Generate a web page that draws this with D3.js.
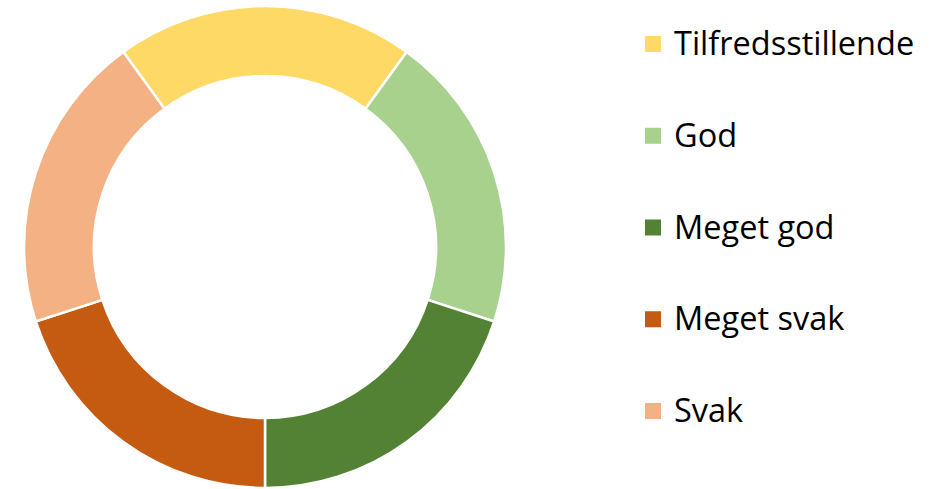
<!DOCTYPE html>
<html lang="no">
<head>
<meta charset="utf-8">
<title>Vurdering</title>
<script src="https://cdn.jsdelivr.net/npm/d3@7"></script>
<style>
  body { margin: 0; background: #fff; }
  svg { display: block; }
  .legend text { font-family: "Open Sans", sans-serif; font-size: 32.5px; fill: #000; }
</style>
</head>
<body>
<script>
// data
const categories = ["Tilfredsstillende", "God", "Meget god", "Meget svak", "Svak"];
const values = [1, 1, 1, 1, 1];
const colors = ["#FFD966", "#A9D18E", "#548235", "#C55A11", "#F4B183"];

const w = 938, h = 489;
const cx = 265, cy = 247;
const outerR = 241, innerR = 171;

const svg = d3.select("body").append("svg")
  .attr("width", w)
  .attr("height", h);

const color = d3.scaleOrdinal().domain(categories).range(colors);

// first slice centred on the top
const pie = d3.pie()
  .sort(null)
  .value(d => d.value)
  .startAngle(-Math.PI / 5)
  .endAngle(2 * Math.PI - Math.PI / 5);

const arc = d3.arc().innerRadius(innerR).outerRadius(outerR);

const data = categories.map((c, i) => ({ name: c, value: values[i] }));

svg.append("g")
  .attr("transform", `translate(${cx},${cy})`)
  .selectAll("path")
  .data(pie(data))
  .join("path")
  .attr("d", arc)
  .attr("fill", d => color(d.data.name))
  .attr("stroke", "#fff")
  .attr("stroke-width", 2.5);

// legend
const ly = d3.scalePoint().domain(categories).range([44, 411]);

const leg = svg.append("g").attr("class", "legend")
  .selectAll("g")
  .data(categories)
  .join("g")
  .attr("transform", d => `translate(645,${ly(d)})`);

leg.append("rect")
  .attr("x", 0)
  .attr("y", -8)
  .attr("width", 16)
  .attr("height", 16)
  .attr("fill", d => color(d));

leg.append("text")
  .attr("x", 29)
  .attr("y", 11)
  .text(d => d);
</script>
</body>
</html>
